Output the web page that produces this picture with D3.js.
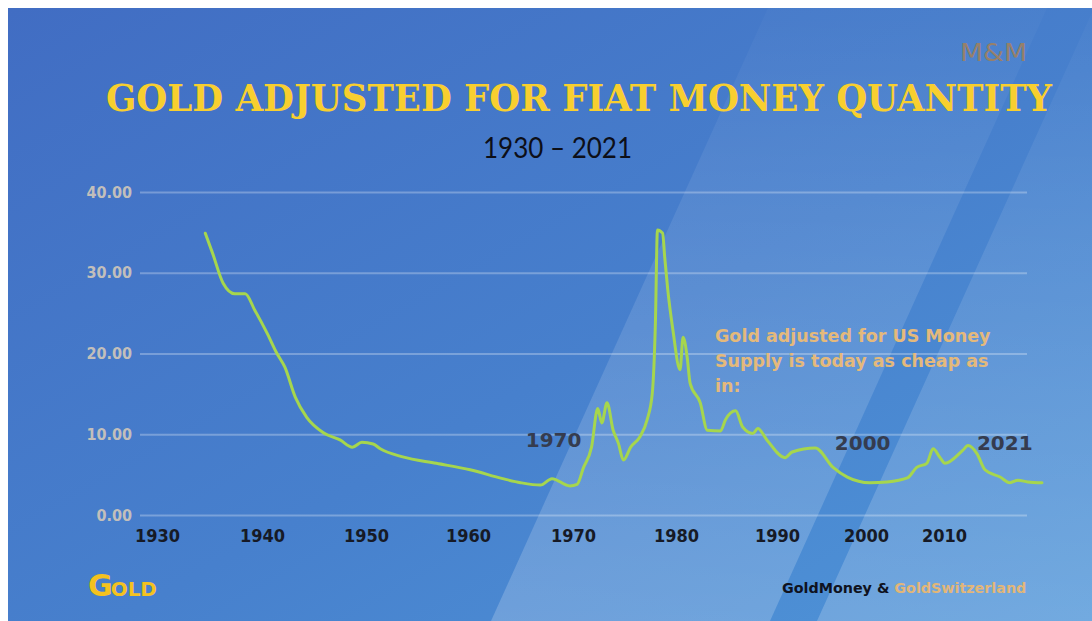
<!DOCTYPE html>
<html>
<head>
<meta charset="utf-8">
<script src="https://cdn.jsdelivr.net/npm/d3@7"></script>
<style>
  body { margin: 0; background: #fff; }
  svg { display: block; }
</style>
</head>
<body>
<div id="chart"></div>
<script>
var svgWidth = 1092;
var svgHeight = 621;

// data
var years = [1934.6,1935.3,1936.3,1937.4,1938.4,1939.3,1940.5,1941.4,1942.2,1943.2,1944.3,1945.9,1947.5,1948.7,1949.6,1950.7,1951.4,1953.6,1956.9,1960.2,1963.3,1965.0,1966.9,1968.0,1969.7,1970.4,1971.0,1971.8,1972.4,1972.8,1973.3,1973.9,1974.4,1974.9,1975.6,1976.5,1977.2,1977.7,1978.0,1978.2,1978.7,1978.9,1979.2,1979.7,1980.4,1980.7,1981.1,1981.4,1982.4,1983.1,1984.4,1984.9,1985.9,1986.6,1987.6,1988.1,1989.0,1990.9,1991.7,1994.3,1996.3,1997.9,2000.5,2002.7,2005.3,2006.5,2007.8,2008.6,2009.5,2010.1,2012.1,2012.7,2013.7,2014.6,2016.3,2017.4,2018.3,2019.4,2021.0];
var values = [34.9,32.4,28.7,27.4,27.4,25.4,22.5,20.1,18.3,14.6,12.1,10.2,9.3,8.4,9.0,8.8,8.2,7.2,6.4,5.6,4.5,4.0,3.7,4.5,3.6,3.8,5.8,8.4,13.2,11.4,13.9,10.5,8.9,6.8,8.4,9.7,11.8,15.1,23.8,35.3,34.9,32.0,27.9,22.9,18.0,22.0,19.6,16.3,13.9,10.5,10.4,11.8,12.9,10.9,10.1,10.7,9.3,7.1,7.8,8.3,5.9,4.7,4.0,4.1,4.6,5.9,6.4,8.2,7.1,6.4,8.0,8.6,7.6,5.6,4.7,4.0,4.3,4.1,4.0];

var xTickYears = [1930, 1940, 1950, 1960, 1970, 1980, 1990, 2000, 2010];
var yTickValues = [0, 10, 20, 30, 40];

var callouts = [
  { label: "1970", year: 1965.5, value: 8.4 },
  { label: "2000", year: 1996.5, value: 8.1 },
  { label: "2021", year: 2013.7, value: 8.1 }
];

var noteLines = ["Gold adjusted for US Money", "Supply is today as cheap as", "in:"];

var svg = d3.select("#chart")
  .append("svg")
  .attr("width", svgWidth)
  .attr("height", svgHeight);

var defs = svg.append("defs");
var grad = defs.append("linearGradient")
  .attr("id", "bg")
  .attr("x1", 0).attr("y1", 0).attr("x2", 1).attr("y2", 1);
grad.append("stop").attr("offset", "0%").attr("stop-color", "#416dc3");
grad.append("stop").attr("offset", "55%").attr("stop-color", "#4780cd");
grad.append("stop").attr("offset", "100%").attr("stop-color", "#4f95d8");

// fade for the light diagonal bands
var fade = defs.append("linearGradient")
  .attr("id", "fade")
  .attr("gradientUnits", "userSpaceOnUse")
  .attr("x1", 0).attr("y1", svgHeight).attr("x2", 0).attr("y2", 8);
fade.append("stop").attr("offset", "0%").attr("stop-color", "#fff").attr("stop-opacity", 0.2);
fade.append("stop").attr("offset", "60%").attr("stop-color", "#fff").attr("stop-opacity", 0.1);
fade.append("stop").attr("offset", "100%").attr("stop-color", "#fff").attr("stop-opacity", 0.02);

// panel
svg.append("rect")
  .attr("x", 8).attr("y", 8)
  .attr("width", svgWidth - 8).attr("height", svgHeight - 8)
  .attr("fill", "url(#bg)");

var bands = [
  [[491, 621], [768, 8], [1047, 8], [770, 621]],
  [[817, 621], [1094, 8], [1092, 8], [1092, 621], [983, 621]]
];
svg.selectAll(".band")
  .data(bands)
  .enter()
  .append("polygon")
  .attr("class", "band")
  .attr("points", d => d.map(p => p.join(",")).join(" "))
  .attr("fill", "url(#fade)");

// scales
var x = d3.scaleLinear()
  .domain([1930, 1940, 1950, 1960, 1970, 1980, 1990, 2000, 2010, 2021])
  .range([157, 262, 366, 468, 573, 676, 777, 866, 944, 1042]);

var y = d3.scaleLinear()
  .domain([0, 40])
  .range([515, 192]);

var gridLeft = 140;
var gridRight = 1027;

// y axis with gridlines
var leftAxis = d3.axisLeft(y)
  .tickValues(yTickValues)
  .tickFormat(d3.format(".2f"))
  .tickSize(-(gridRight - gridLeft))
  .tickPadding(8);

var yAxisG = svg.append("g")
  .attr("transform", `translate(${gridLeft}, 0)`)
  .call(leftAxis);
yAxisG.select(".domain").remove();
yAxisG.selectAll("line")
  .attr("stroke", "#ffffff")
  .attr("stroke-opacity", 0.28)
  .attr("stroke-width", 2);
yAxisG.selectAll("text")
  .attr("fill", "#c2bfbb")
  .style("font-family", "'DejaVu Sans Condensed', 'DejaVu Sans', sans-serif")
  .style("font-weight", "bold")
  .style("font-size", "16px");

// x axis
var bottomAxis = d3.axisBottom(x)
  .tickValues(xTickYears)
  .tickFormat(d3.format("d"))
  .tickSize(0)
  .tickPadding(14);

var xAxisG = svg.append("g")
  .attr("transform", `translate(0, ${y(0)})`)
  .call(bottomAxis);
xAxisG.select(".domain").remove();
xAxisG.selectAll("text")
  .attr("fill", "#161a26")
  .style("font-family", "'DejaVu Sans Condensed', 'DejaVu Sans', sans-serif")
  .style("font-weight", "bold")
  .style("font-size", "18px");

// the line
var points = years.map((yr, i) => [yr, values[i]]);
var line = d3.line()
  .x(d => x(d[0]))
  .y(d => y(d[1]))
  .curve(d3.curveMonotoneX);

svg.append("path")
  .datum(points)
  .attr("fill", "none")
  .attr("stroke", "#a6d64d")
  .attr("stroke-width", 3)
  .attr("stroke-linejoin", "round")
  .attr("stroke-linecap", "round")
  .attr("d", line);

// year callouts
svg.selectAll(".callout")
  .data(callouts)
  .enter()
  .append("text")
  .attr("class", "callout")
  .attr("x", d => x(d.year))
  .attr("y", d => y(d.value))
  .attr("fill", "#353c4f")
  .style("font-family", "'DejaVu Sans', sans-serif")
  .style("font-weight", "bold")
  .style("font-size", "20px")
  .text(d => d.label);

// note
svg.append("text")
  .attr("x", 715)
  .attr("y", 342)
  .attr("fill", "#e4b97b")
  .style("font-family", "'DejaVu Sans', sans-serif")
  .style("font-weight", "bold")
  .style("font-size", "17.5px")
  .selectAll("tspan")
  .data(noteLines)
  .enter()
  .append("tspan")
  .attr("x", 715)
  .attr("dy", (d, i) => i === 0 ? 0 : 25)
  .text(d => d);

// title
svg.append("text")
  .attr("x", 106)
  .attr("y", 111)
  .attr("textLength", 946)
  .attr("lengthAdjust", "spacingAndGlyphs")
  .attr("fill", "#f8cf2f")
  .style("font-family", "'DejaVu Serif', serif")
  .style("font-weight", "bold")
  .style("font-size", "37px")
  .text("GOLD ADJUSTED FOR FIAT MONEY QUANTITY");

svg.append("text")
  .attr("x", 483)
  .attr("y", 158)
  .attr("textLength", 149)
  .attr("lengthAdjust", "spacingAndGlyphs")
  .attr("fill", "#0d0f18")
  .style("font-family", "Lato, sans-serif")
  .style("font-size", "29px")
  .text("1930 \u2013 2021");

// M&M mark
svg.append("text")
  .attr("x", 960)
  .attr("y", 61)
  .attr("textLength", 67)
  .attr("lengthAdjust", "spacingAndGlyphs")
  .attr("fill", "#96806a")
  .style("font-family", "'DejaVu Sans Condensed', sans-serif")
  .style("font-size", "24px")
  .text("M&M");

// Gold logo
var logo = svg.append("text")
  .attr("x", 88)
  .attr("y", 596)
  .attr("fill", "#f4c21f")
  .style("font-family", "'DejaVu Sans', sans-serif")
  .style("font-weight", "bold");
logo.append("tspan").style("font-size", "30px").text("G");
logo.append("tspan").style("font-size", "20px").attr("dx", -2).text("OLD");

// footer
var footer = svg.append("text")
  .attr("x", 782)
  .attr("y", 593)
  .style("font-family", "'DejaVu Sans', sans-serif")
  .style("font-weight", "bold")
  .style("font-size", "14.3px");
footer.append("tspan").attr("fill", "#0f1220").text("GoldMoney & ");
footer.append("tspan").attr("fill", "#e2b678").text("GoldSwitzerland");
</script>
</body>
</html>
